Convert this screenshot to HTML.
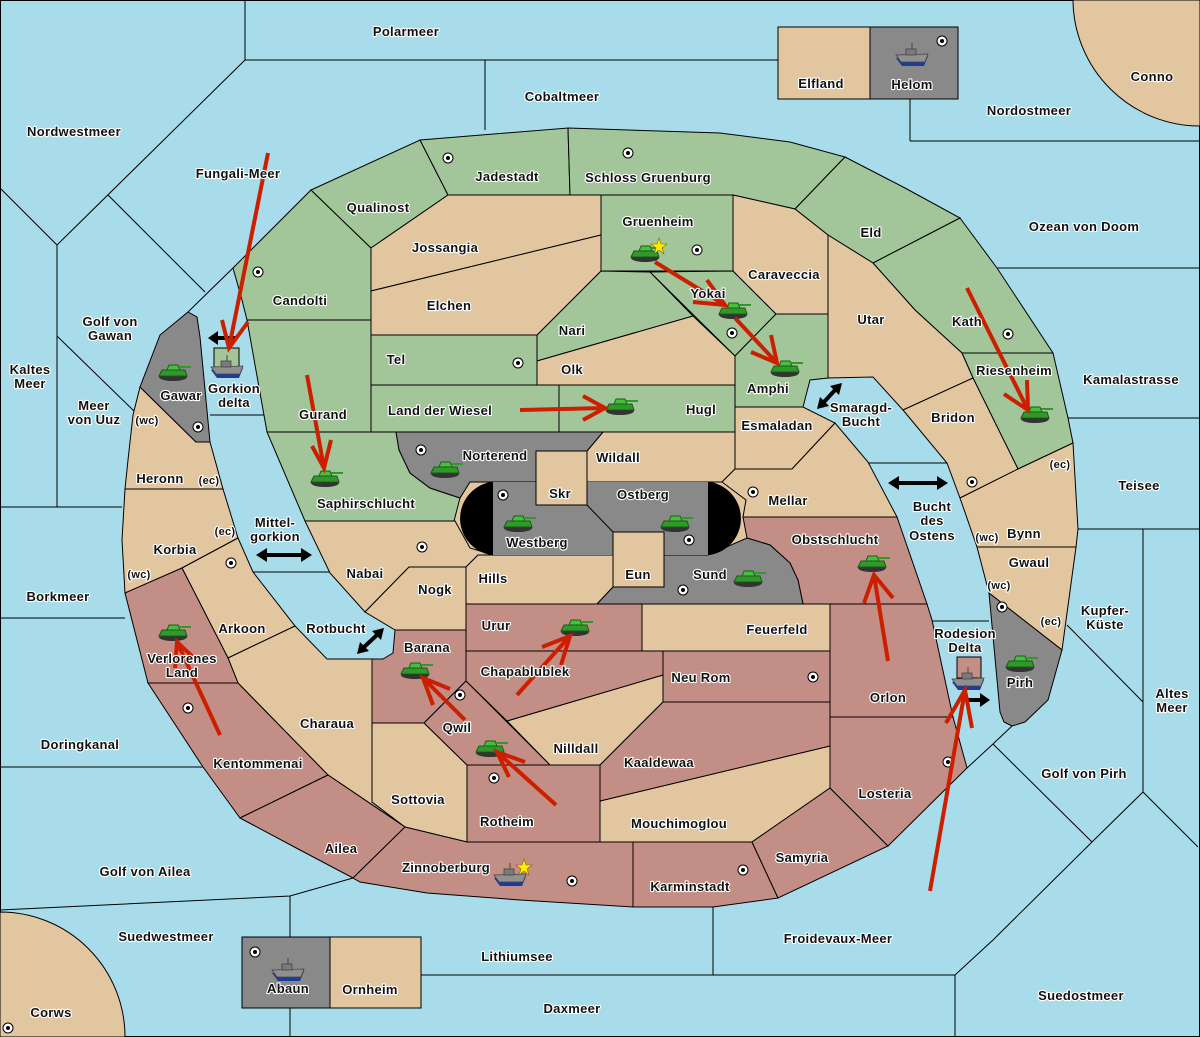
<!DOCTYPE html>
<html><head><meta charset="utf-8"><style>
html,body{margin:0;padding:0;background:#a8dcea}
svg{display:block}
text{font-family:"Liberation Sans",sans-serif;font-weight:bold;font-size:13px;text-anchor:middle;fill:#111;stroke:#fff;stroke-width:2.2px;paint-order:stroke;stroke-linejoin:round;letter-spacing:0.3px}
text.s{font-size:11px}
.g{fill:#a3c59a;stroke:#000;stroke-width:1}
.t{fill:#e2c6a0;stroke:#000;stroke-width:1}
.r{fill:#c38e86;stroke:#000;stroke-width:1}
.k{fill:#898989;stroke:#000;stroke-width:1}
.ln{stroke:#000;stroke-width:1;fill:none}
.ra{stroke:#cc1f00;stroke-width:4;fill:none;stroke-linecap:butt}
</style></head><body>
<svg width="1200" height="1037" viewBox="0 0 1200 1037" xmlns="http://www.w3.org/2000/svg">
<defs>
<g id="tank">
<ellipse cx="0" cy="4" rx="14" ry="4" fill="#333"/>
<path d="M-14,3 L-11,-3 L12,-3 L14,3 Z" fill="#2f9a2a" stroke="#1d5a18" stroke-width="1"/>
<path d="M-6,-3 L-4,-8 L5,-8 L7,-3 Z" fill="#45c03c" stroke="#1d5a18" stroke-width="1"/>
<rect x="6" y="-7" width="12" height="2" fill="#2f9a2a"/>
</g>
<g id="ship">
<path d="M-16,0 L16,-2 L12,8 L-10,8 Z" fill="#1c3c9a"/>
<path d="M-16,-3 L16,-4 L13,4 L-11,4 Z" fill="#909090" stroke="#444" stroke-width="0.8"/>
<rect x="-6" y="-9" width="10" height="6" fill="#7a7a7a" stroke="#444" stroke-width="0.8"/>
<line x1="0" y1="-9" x2="0" y2="-15" stroke="#444" stroke-width="1"/>
</g>
<g id="sc"><circle r="5" fill="#fff" stroke="#000" stroke-width="1"/><circle r="2" fill="#000"/></g>
</defs>
<rect width="1200" height="1037" fill="#a8dcea"/>
<rect x="0.5" y="0.5" width="1199" height="1036" fill="none" stroke="#000"/>
<g class="ln">
<polyline points="245,0 245,60 485,60 485,130"/>
<line x1="245" y1="60" x2="57" y2="245"/>
<line x1="0" y1="188" x2="57" y2="245"/>
<line x1="108" y1="195" x2="205" y2="292"/>
<line x1="188" y1="312" x2="233" y2="268"/>
<line x1="57" y1="245" x2="57" y2="507"/>
<line x1="0" y1="507" x2="122" y2="507"/>
<line x1="57" y1="336" x2="135" y2="412"/>
<line x1="0" y1="618" x2="125" y2="618"/>
<line x1="0" y1="767" x2="203" y2="767"/>
<polyline points="0,910 290,896 353,878"/>
<line x1="290" y1="896" x2="290" y2="1037"/>
<line x1="421" y1="975" x2="713" y2="975"/>
<line x1="713" y1="907" x2="713" y2="975"/>
<polyline points="713,975 955,975 993,940 1092,842 1143,792 1198,847"/>
<line x1="955" y1="975" x2="955" y2="1037"/>
<polyline points="967,768 993,744 1012,726"/>
<line x1="993" y1="744" x2="1092" y2="842"/>
<line x1="1067" y1="625" x2="1143" y2="702"/>
<line x1="1143" y1="529" x2="1143" y2="792"/>
<line x1="1076" y1="529" x2="1200" y2="529"/>
<line x1="1068" y1="418" x2="1200" y2="418"/>
<line x1="997" y1="268" x2="1200" y2="268"/>
<line x1="910" y1="99" x2="910" y2="141"/>
<line x1="910" y1="141" x2="1200" y2="141"/>
<line x1="485" y1="60" x2="778" y2="60"/>
<line x1="210" y1="415" x2="267" y2="415"/>
<line x1="253" y1="572" x2="330" y2="572"/>
<line x1="868" y1="463" x2="947" y2="463"/>
<line x1="932" y1="621" x2="989" y2="621"/>
</g>
<path d="M1073,0 A127,127 0 0 0 1200,126 L1200,0 Z" class="t"/>
<path d="M0,912 A125,125 0 0 1 125,1037 L0,1037 Z" class="t"/>
<rect x="778" y="27" width="92" height="72" class="t"/>
<rect x="870" y="27" width="88" height="72" class="k"/>
<rect x="242" y="937" width="88" height="71" class="k"/>
<rect x="330" y="937" width="91" height="71" class="t"/>
<rect x="440" y="465" width="320" height="110" fill="#e2c6a0"/>
<polygon class="g" points="233,268 311,190 371,248 371,320 247,320 242,300"/>
<polygon class="g" points="247,320 371,320 371,432 267,432"/>
<polygon class="g" points="267,432 396,432 399,450 410,473 430,488 460,498 454,521 305,521"/>
<polygon class="g" points="311,190 420,140 448,195 371,248"/>
<polygon class="g" points="420,140 568,128 570,195 448,195"/>
<polygon class="g" points="568,128 720,133 790,142 845,157 795,209 733,195 570,195"/>
<polygon class="g" points="845,157 905,188 960,218 873,263 828,235 795,209"/>
<polygon class="g" points="960,218 997,268 1053,353 962,353 915,310 873,263"/>
<polygon class="g" points="962,353 1053,353 1068,418 1073,443 1018,469 973,378"/>
<polygon class="g" points="601,195 733,195 733,271 601,271"/>
<polygon class="g" points="537,335 601,271 650,272 693,316 537,361"/>
<polygon class="g" points="650,272 733,271 776,314 735,356"/>
<polygon class="g" points="776,314 828,314 828,378 810,380 803,407 735,407 735,356"/>
<polygon class="g" points="371,335 537,335 537,385 371,385"/>
<polygon class="g" points="371,385 559,385 559,432 371,432"/>
<polygon class="g" points="559,385 735,385 735,432 559,432"/>
<rect x="214" y="348" width="25" height="22" class="g"/>
<polygon class="t" points="371,248 448,195 601,195 601,235 371,291"/>
<polygon class="t" points="371,291 601,235 601,271 537,335 371,335"/>
<polygon class="t" points="537,361 693,316 735,356 735,385 537,385"/>
<polygon class="t" points="733,195 795,209 828,235 828,314 776,314 733,271"/>
<polygon class="t" points="828,235 873,263 915,310 962,353 973,378 903,410 873,377 828,378"/>
<polygon class="t" points="973,378 1018,469 960,498 947,463 903,410"/>
<polygon class="t" points="960,498 1018,469 1073,443 1078,529 1076,547 977,547"/>
<polygon class="t" points="977,547 1076,547 1062,650 989,593"/>
<polygon class="t" points="735,407 803,407 835,423 792,469 735,469"/>
<polygon class="t" points="603,432 735,432 735,469 722,482 587,482 587,451"/>
<polygon class="t" points="735,469 792,469 835,423 868,462 897,517 743,517 746,500 722,482"/>
<polygon class="t" points="305,521 455,521 470,548 493,555 478,555 466,567 409,567 365,612 330,573"/>
<polygon class="t" points="466,567 478,555 613,555 613,587 597,604 466,604"/>
<polygon class="t" points="365,612 409,567 466,567 466,630 395,630"/>
<polygon class="t" points="642,604 830,604 830,651 642,651"/>
<polygon class="t" points="140,387 196,442 210,442 223,489 125,489 128,460 133,415"/>
<polygon class="t" points="125,489 223,489 238,538 182,568 125,593 122,540"/>
<polygon class="t" points="182,568 238,538 253,572 295,626 228,658"/>
<polygon class="t" points="228,658 295,626 327,659 372,659 372,802 405,827 328,775 238,683"/>
<polygon class="t" points="372,723 424,723 467,765 467,842 405,827 372,802"/>
<polygon class="t" points="507,721 663,675 663,702 600,765 550,765"/>
<polygon class="t" points="600,801 830,746 830,788 752,842 600,842"/>
<polygon class="r" points="125,593 182,568 228,658 238,683 148,683"/>
<polygon class="r" points="148,683 238,683 328,775 240,818 203,767"/>
<polygon class="r" points="240,818 328,775 405,827 353,878 300,850"/>
<polygon class="r" points="353,878 405,827 467,842 633,842 633,907 520,900 427,893 360,882"/>
<polygon class="r" points="633,842 752,842 778,898 713,907 633,907"/>
<polygon class="r" points="752,842 830,788 888,846 778,898"/>
<polygon class="r" points="830,604 927,604 932,620 953,717 830,717"/>
<polygon class="r" points="830,717 953,717 967,768 888,846 830,788"/>
<polygon class="r" points="743,517 897,517 927,604 803,604 798,580 790,563 770,545 747,538"/>
<polygon class="r" points="466,604 642,604 642,651 466,651"/>
<polygon class="r" points="466,651 663,651 663,675 507,721 466,681"/>
<polygon class="r" points="663,651 830,651 830,702 663,702"/>
<polygon class="r" points="663,702 830,702 830,746 600,801 600,765"/>
<polygon class="r" points="372,659 383,659 393,653 395,630 466,630 466,681 424,723 372,723"/>
<polygon class="r" points="466,681 550,765 467,765 424,723"/>
<polygon class="r" points="467,765 600,765 600,842 467,842"/>
<rect x="957" y="657" width="24" height="21" class="r"/>
<polygon class="k" points="188,312 197,317 200,337 210,442 196,442 140,387 160,335"/>
<polygon class="k" points="396,432 603,432 587,451 536,451 536,482 470,482 460,498 430,488 410,473 399,450"/>
<polygon class="k" points="664,555 708,555 747,538 770,545 790,563 798,580 803,604 597,604 613,587 664,587"/>
<polygon class="k" points="989,593 1062,650 1048,700 1025,722 1012,726 1004,722 1000,712"/>
<path d="M491,482 L710,482 A37,37 0 0 1 710,555 L491,555 A37,37 0 0 1 491,482 Z" fill="#000"/>
<rect x="493" y="482" width="215" height="73" fill="#898989"/>
<line x1="587" y1="505" x2="613" y2="532" class="ln"/>
<rect x="536" y="451" width="51" height="54" class="t"/>
<rect x="613" y="532" width="51" height="55" class="t"/>
<use href="#sc" x="258" y="272"/><use href="#sc" x="198" y="427"/><use href="#sc" x="448" y="158"/>
<use href="#sc" x="628" y="153"/><use href="#sc" x="697" y="250"/><use href="#sc" x="518" y="363"/>
<use href="#sc" x="732" y="333"/><use href="#sc" x="1008" y="334"/><use href="#sc" x="972" y="482"/>
<use href="#sc" x="1002" y="607"/><use href="#sc" x="753" y="492"/><use href="#sc" x="503" y="495"/>
<use href="#sc" x="689" y="540"/><use href="#sc" x="421" y="450"/><use href="#sc" x="422" y="547"/>
<use href="#sc" x="683" y="590"/><use href="#sc" x="231" y="563"/><use href="#sc" x="188" y="708"/>
<use href="#sc" x="460" y="695"/><use href="#sc" x="494" y="778"/><use href="#sc" x="813" y="677"/>
<use href="#sc" x="948" y="762"/><use href="#sc" x="743" y="870"/><use href="#sc" x="572" y="881"/>
<use href="#sc" x="942" y="41"/><use href="#sc" x="255" y="952"/><use href="#sc" x="8" y="1028"/>
<g stroke="#000" stroke-width="4" fill="#000">
<line x1="264" y1="555" x2="304" y2="555"/><polygon points="256,555 267,548 267,562" stroke="none"/><polygon points="312,555 301,548 301,562" stroke="none"/>
<line x1="363" y1="648" x2="378" y2="634"/><polygon points="357,654 360,642 369,651" stroke="none"/><polygon points="384,628 381,640 372,631" stroke="none"/>
<line x1="823" y1="403" x2="836" y2="389"/><polygon points="817,409 820,397 829,406" stroke="none"/><polygon points="842,383 839,395 830,386" stroke="none"/>
<line x1="896" y1="483" x2="940" y2="483"/><polygon points="888,483 899,476 899,490" stroke="none"/><polygon points="948,483 937,476 937,490" stroke="none"/>
<line x1="216" y1="338" x2="236" y2="338"/><polygon points="208,338 218,331 218,345" stroke="none"/>
<line x1="966" y1="700" x2="982" y2="700"/><polygon points="990,700 980,693 980,707" stroke="none"/>
</g>
<use href="#tank" x="173" y="373"/><use href="#tank" x="325" y="479"/><use href="#tank" x="445" y="470"/>
<use href="#tank" x="518" y="524"/><use href="#tank" x="675" y="524"/><use href="#tank" x="645" y="254"/>
<use href="#tank" x="733" y="311"/><use href="#tank" x="785" y="369"/><use href="#tank" x="620" y="407"/>
<use href="#tank" x="1035" y="415"/><use href="#tank" x="748" y="579"/><use href="#tank" x="872" y="564"/>
<use href="#tank" x="1020" y="664"/><use href="#tank" x="575" y="628"/><use href="#tank" x="415" y="671"/>
<use href="#tank" x="490" y="749"/><use href="#tank" x="173" y="633"/>
<use href="#ship" x="912" y="58"/><use href="#ship" x="227" y="370"/><use href="#ship" x="968" y="682"/>
<use href="#ship" x="510" y="878"/><use href="#ship" x="288" y="973"/>
<polygon points="659,238 661,244 667,244 662,248 664,254 659,250 654,254 656,248 651,244 657,244" fill="#ffee00" stroke="#886600" stroke-width="0.6"/>
<polygon points="524,859 526,865 532,865 527,869 529,875 524,871 519,875 521,869 516,865 522,865" fill="#ffee00" stroke="#886600" stroke-width="0.6"/>
<g class="ra">
<line x1="268" y1="153" x2="229" y2="348"/><polyline points="222,320 229,348 248,322"/>
<line x1="307" y1="375" x2="324" y2="468"/><polyline points="312,446 324,468 331,440"/>
<line x1="520" y1="410" x2="605" y2="408"/><polyline points="583,396 605,408 583,420"/>
<line x1="655" y1="262" x2="725" y2="305"/><polyline points="707,280 725,305 693,302"/>
<line x1="735" y1="318" x2="777" y2="363"/><polyline points="771,335 777,363 751,352"/>
<line x1="967" y1="288" x2="1028" y2="410"/><polyline points="1004,394 1028,410 1027,380"/>
<line x1="888" y1="661" x2="874" y2="575"/><polyline points="864,603 874,575 893,598"/>
<line x1="930" y1="891" x2="965" y2="690"/><polyline points="946,723 965,690 972,728"/>
<line x1="556" y1="805" x2="497" y2="752"/><polyline points="525,762 497,752 509,777"/>
<line x1="465" y1="720" x2="423" y2="678"/><polyline points="450,689 423,678 433,705"/>
<line x1="517" y1="695" x2="570" y2="636"/><polyline points="542,647 570,636 561,665"/>
<line x1="220" y1="735" x2="177" y2="642"/><polyline points="175,668 177,642 196,660"/>
</g>
<g>
<text x="406" y="36">Polarmeer</text><text x="562" y="101">Cobaltmeer</text><text x="74" y="136">Nordwestmeer</text>
<text x="1029" y="115">Nordostmeer</text><text x="1152" y="81">Conno</text><text x="821" y="88">Elfland</text>
<text x="912" y="89">Helom</text><text x="238" y="178">Fungali-Meer</text><text x="1084" y="231">Ozean von Doom</text>
<text x="110" y="326">Golf von</text><text x="110" y="340">Gawan</text>
<text x="30" y="374">Kaltes</text><text x="30" y="388">Meer</text>
<text x="94" y="410">Meer</text><text x="94" y="424">von Uuz</text>
<text x="1131" y="384">Kamalastrasse</text><text x="1139" y="490">Teisee</text>
<text x="275" y="527">Mittel-</text><text x="275" y="541">gorkion</text>
<text x="861" y="412">Smaragd-</text><text x="861" y="426">Bucht</text>
<text x="932" y="511">Bucht</text><text x="932" y="525">des</text><text x="932" y="540">Ostens</text>
<text x="1105" y="615">Kupfer-</text><text x="1105" y="629">Küste</text>
<text x="965" y="638">Rodesion</text><text x="965" y="652">Delta</text>
<text x="1172" y="698">Altes</text><text x="1172" y="712">Meer</text>
<text x="58" y="601">Borkmeer</text><text x="80" y="749">Doringkanal</text><text x="1084" y="778">Golf von Pirh</text>
<text x="145" y="876">Golf von Ailea</text><text x="166" y="941">Suedwestmeer</text><text x="838" y="943">Froidevaux-Meer</text>
<text x="517" y="961">Lithiumsee</text><text x="1081" y="1000">Suedostmeer</text><text x="572" y="1013">Daxmeer</text>
<text x="51" y="1017">Corws</text><text x="288" y="993">Abaun</text><text x="370" y="994">Ornheim</text>
<text x="336" y="633">Rotbucht</text><text x="234" y="393">Gorkion</text><text x="234" y="407">delta</text>
<text x="507" y="181">Jadestadt</text><text x="648" y="182">Schloss Gruenburg</text><text x="378" y="212">Qualinost</text>
<text x="658" y="226">Gruenheim</text><text x="445" y="252">Jossangia</text><text x="871" y="237">Eld</text>
<text x="784" y="279">Caraveccia</text><text x="300" y="305">Candolti</text><text x="449" y="310">Elchen</text>
<text x="708" y="298">Yokai</text><text x="572" y="335">Nari</text><text x="871" y="324">Utar</text>
<text x="967" y="326">Kath</text><text x="396" y="364">Tel</text><text x="572" y="374">Olk</text>
<text x="1014" y="375">Riesenheim</text><text x="768" y="393">Amphi</text><text x="181" y="400">Gawar</text>
<text class="s" x="147" y="424">(wc)</text><text x="323" y="419">Gurand</text><text x="440" y="415">Land der Wiesel</text>
<text x="701" y="414">Hugl</text><text x="953" y="422">Bridon</text><text x="777" y="430">Esmaladan</text>
<text x="495" y="460">Norterend</text><text x="618" y="462">Wildall</text><text x="160" y="483">Heronn</text>
<text class="s" x="209" y="484">(ec)</text><text class="s" x="1060" y="468">(ec)</text><text x="560" y="498">Skr</text>
<text x="643" y="499">Ostberg</text><text x="788" y="505">Mellar</text><text x="366" y="508">Saphirschlucht</text>
<text x="537" y="547">Westberg</text><text x="1024" y="538">Bynn</text><text class="s" x="987" y="541">(wc)</text>
<text x="835" y="544">Obstschlucht</text><text class="s" x="225" y="535">(ec)</text><text x="175" y="554">Korbia</text>
<text class="s" x="139" y="578">(wc)</text><text x="365" y="578">Nabai</text><text x="638" y="579">Eun</text>
<text x="710" y="579">Sund</text><text x="493" y="583">Hills</text><text x="1029" y="567">Gwaul</text>
<text class="s" x="999" y="589">(wc)</text><text x="435" y="594">Nogk</text><text class="s" x="1051" y="625">(ec)</text>
<text x="496" y="630">Urur</text><text x="242" y="633">Arkoon</text><text x="777" y="634">Feuerfeld</text>
<text x="427" y="652">Barana</text><text x="525" y="676">Chapablublek</text>
<text x="182" y="663">Verlorenes</text><text x="182" y="677">Land</text>
<text x="701" y="682">Neu Rom</text><text x="1020" y="687">Pirh</text><text x="888" y="702">Orlon</text>
<text x="327" y="728">Charaua</text><text x="457" y="732">Qwil</text><text x="576" y="753">Nilldall</text>
<text x="659" y="767">Kaaldewaa</text><text x="258" y="768">Kentommenai</text><text x="885" y="798">Losteria</text>
<text x="418" y="804">Sottovia</text><text x="507" y="826">Rotheim</text><text x="679" y="828">Mouchimoglou</text>
<text x="341" y="853">Ailea</text><text x="802" y="862">Samyria</text><text x="446" y="872">Zinnoberburg</text>
<text x="690" y="891">Karminstadt</text>
</g>
</svg>
</body></html>
